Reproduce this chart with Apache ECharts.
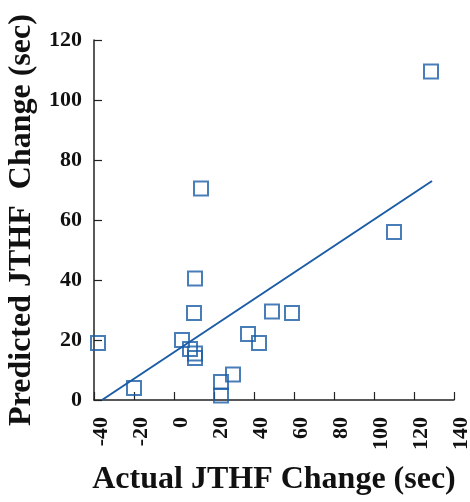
<!DOCTYPE html>
<html>
<head>
<meta charset="utf-8">
<script src="https://cdn.jsdelivr.net/npm/echarts@6/dist/echarts.min.js"></script>
<style>
  html, body { margin: 0; padding: 0; background: #fff; }
  #chart { width: 470px; height: 502px; }
</style>
</head>
<body>
<div id="chart"></div>
<script>
// actual vs predicted JTHF change (sec)
const actual = [-38, -20, 4, 8, 10.5, 10.5, 10, 10.5, 13.5, 23.5, 23.5, 29.5, 37, 42.5, 49, 59, 110, 128.5];
const predicted = [19, 4, 20, 17, 15.5, 14, 29, 40.5, 70.5, 6, 1.5, 8.5, 22, 19, 29.5, 29, 56, 109.5];

// regression line end points
const fitX = [-36, 129];
const fitY = [0, 73];

const blue = "#1b5ca6";
const font = "Liberation Serif";

var chart = echarts.init(document.getElementById("chart"));
var option = {
  animation: false,
  grid: { left: 94, right: 16, top: 40, bottom: 102, outerBoundsMode: "none", containLabel: false },
  xAxis: {
    type: "value",
    min: -40,
    max: 140,
    interval: 20,
    name: "Actual JTHF Change (sec)",
    nameLocation: "middle",
    nameGap: 64,
    nameTextStyle: { fontFamily: font, fontWeight: "bold", fontSize: 32, color: "#111" },
    splitLine: { show: false },
    axisLine: { onZero: false, lineStyle: { color: "#222", width: 1.5 } },
    axisTick: { inside: true, length: 8, lineStyle: { color: "#222", width: 1.2 } },
    axisLabel: {
      rotate: 90,
      margin: 17,
      verticalAlign: "top",
      lineHeight: 14,
      fontFamily: font,
      fontWeight: "bold",
      fontSize: 22,
      color: "#111",
    },
  },
  yAxis: {
    type: "value",
    min: 0,
    max: 120,
    interval: 20,
    name: "Predicted JTHF  Change (sec)",
    nameLocation: "middle",
    nameGap: 52,
    nameTextStyle: { fontFamily: font, fontWeight: "bold", fontSize: 32, color: "#111" },
    splitLine: { show: false },
    axisLine: { show: true, onZero: false, lineStyle: { color: "#222", width: 1.5 } },
    axisTick: { show: true, inside: true, length: 8, lineStyle: { color: "#222", width: 1.2 } },
    axisLabel: {
      margin: 12,
      fontFamily: font,
      fontWeight: "bold",
      fontSize: 22,
      color: "#111",
    },
  },
  series: [
    {
      type: "line",
      data: fitX.map((x, i) => [x, fitY[i]]),
      showSymbol: false,
      lineStyle: { color: blue, width: 2 },
      z: 2,
    },
    {
      type: "scatter",
      data: actual.map((x, i) => [x, predicted[i]]),
      symbol: "rect",
      symbolSize: 14,
      itemStyle: { color: "rgba(0,0,0,0)", borderColor: blue, borderWidth: 2 },
      z: 3,
    },
  ],
};
chart.setOption(option);
</script>
</body>
</html>
